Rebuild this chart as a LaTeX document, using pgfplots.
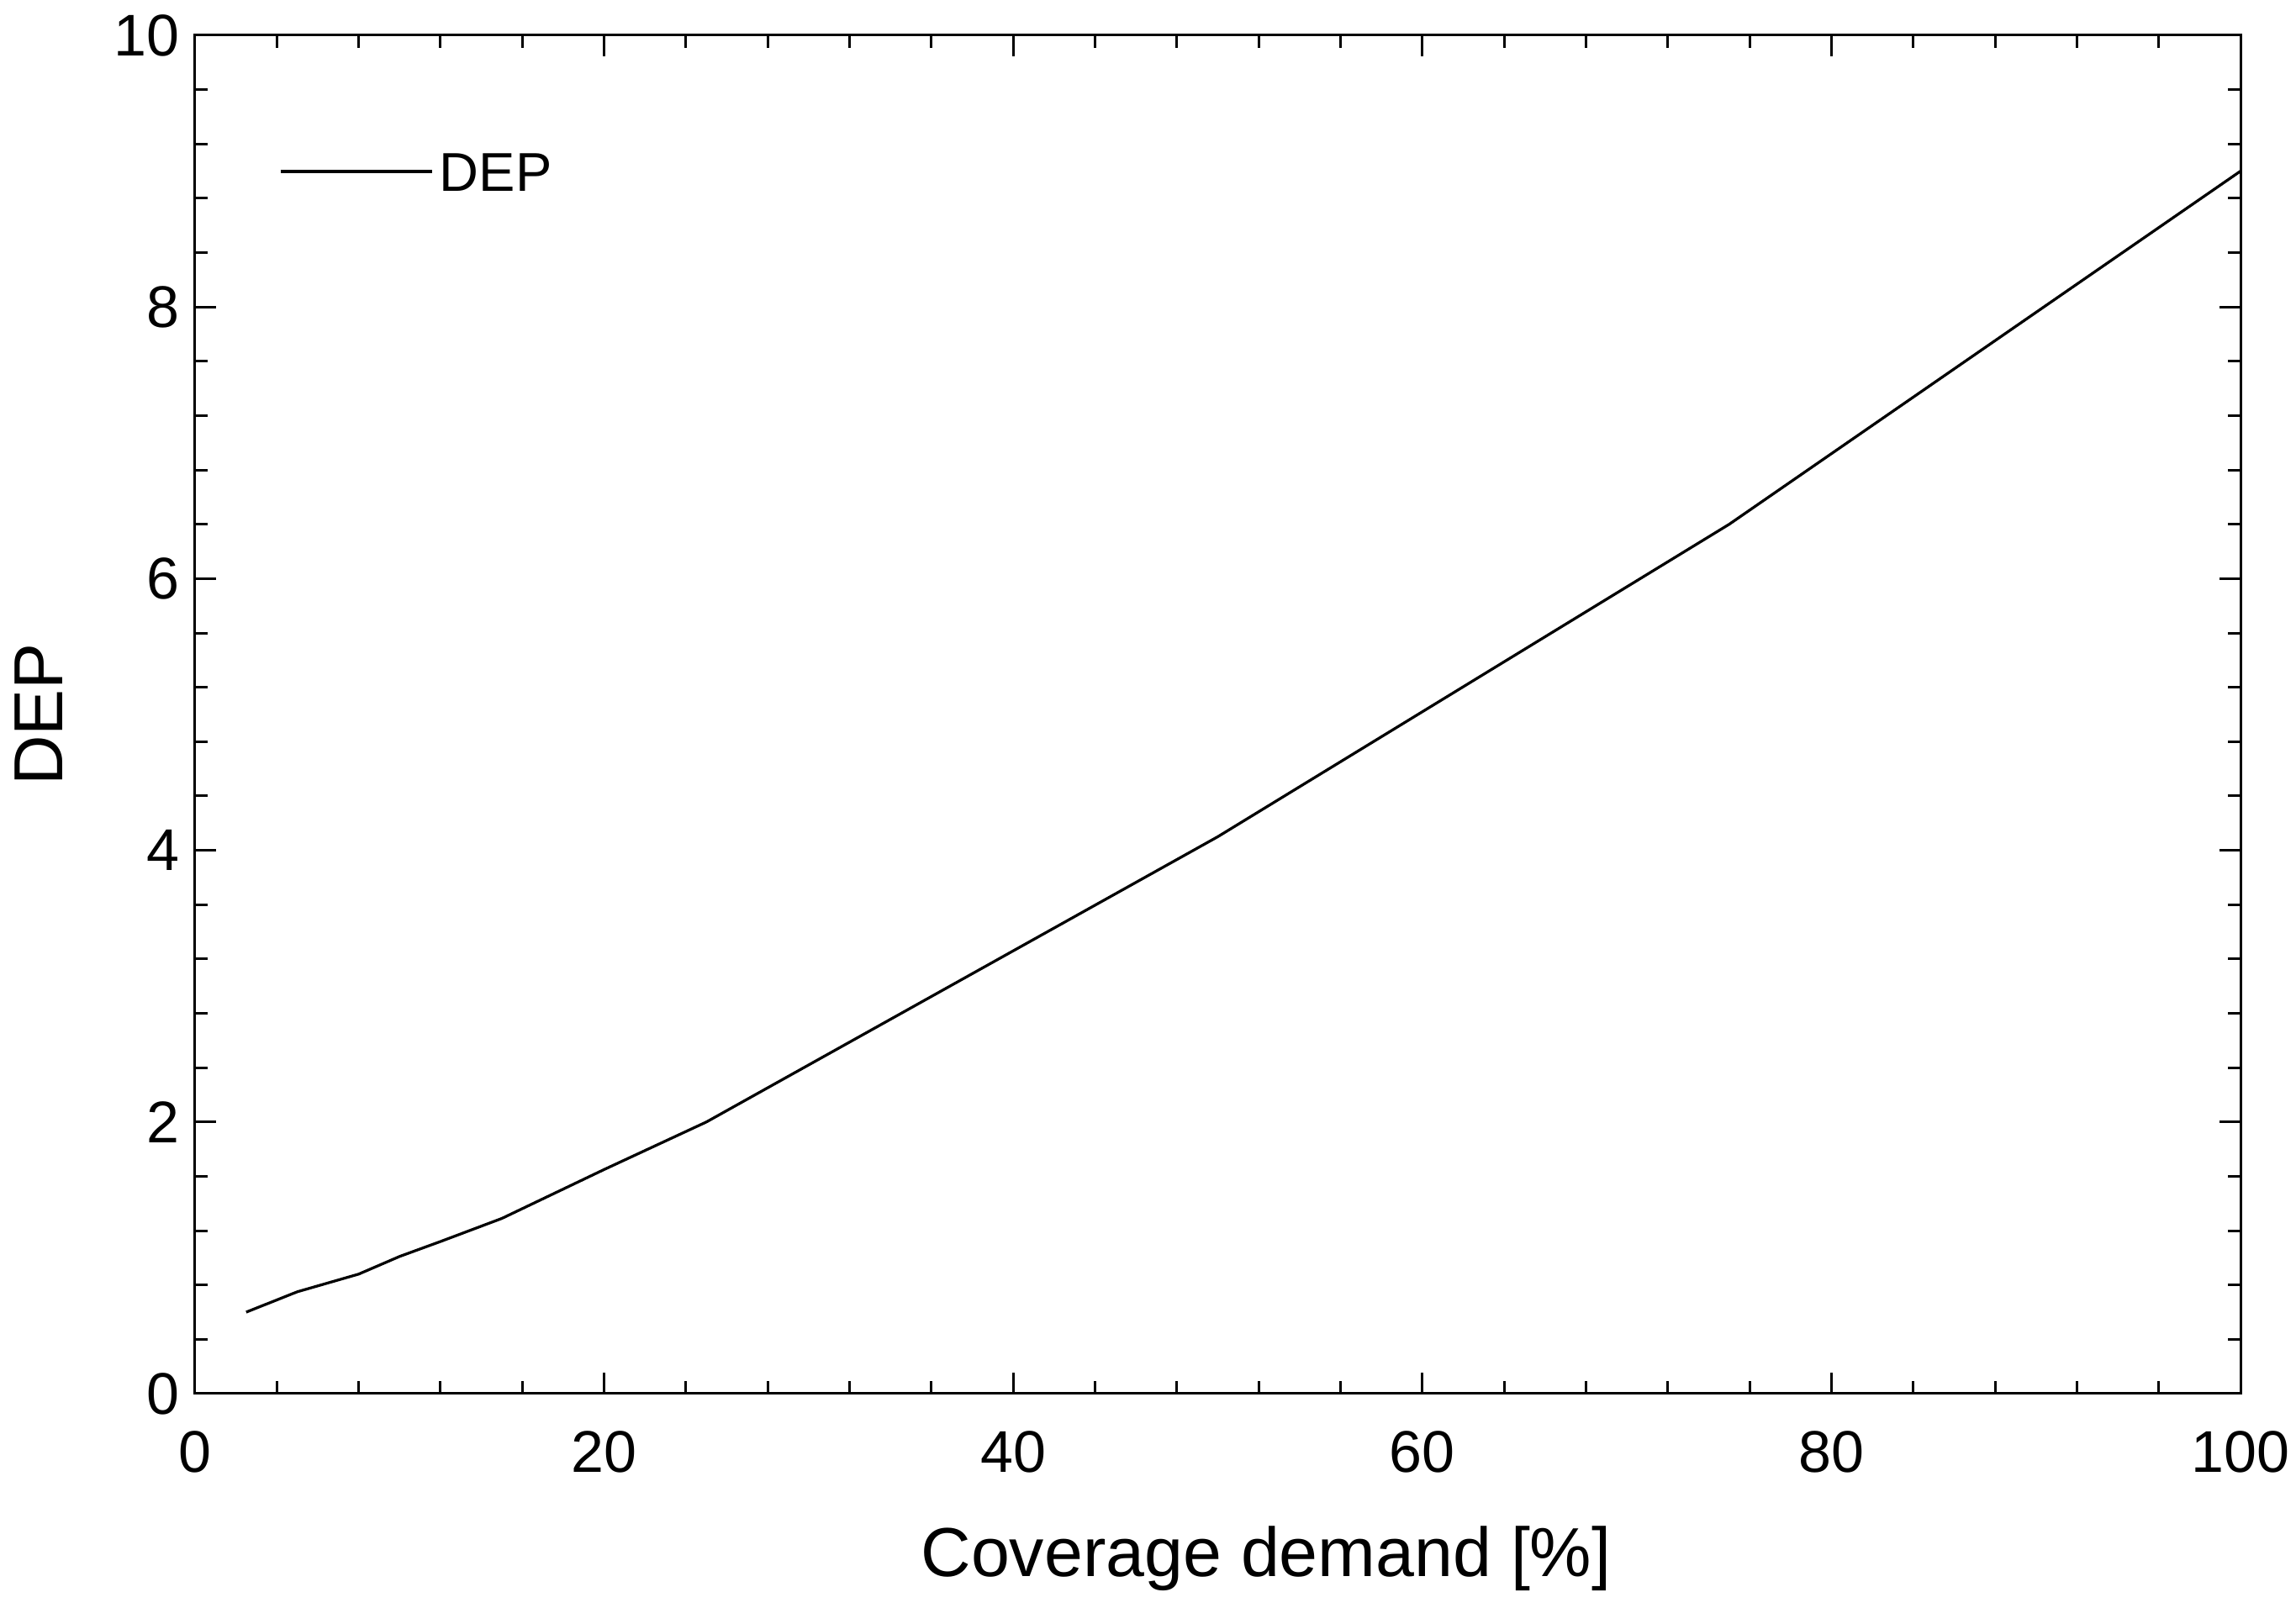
\documentclass[border=0pt]{standalone}
\usepackage{fontspec}
\setmainfont{Liberation Sans}
\usepackage{pgfplots}
\pgfplotsset{compat=1.18}
\begin{document}
\begin{tikzpicture}
\begin{axis}[
  scale only axis,
  width=486.6pt, height=323.2pt,
  xmin=0, xmax=100, ymin=0, ymax=10,
  xtick distance=20, ytick distance=2,
  minor x tick num=4, minor y tick num=4,
  tick pos=both, tick align=inside,
  xticklabel pos=lower, yticklabel pos=left,
  major tick length=5pt, minor tick length=3pt,
  every tick/.style={black, line width=0.6pt},
  axis line style={black, line width=0.6pt},
  /pgf/number format/assume math mode=true,
  ticklabel style={font=\fontsize{14}{16}\selectfont, inner sep=0pt},
  xticklabel style={yshift=-8.8pt},
  yticklabel style={xshift=-3.6pt},
  xlabel={Coverage demand [\%]},
  ylabel={DEP},
  label style={font=\fontsize{16.5}{19}\selectfont, inner sep=0pt},
  xlabel style={at={(axis description cs:0.5,0)}, anchor=north, yshift=-31.4pt, xshift=11.5pt},
  ylabel style={at={(axis description cs:0,0.5)}, anchor=center, yshift=37.2pt},
  legend style={at={(axis description cs:0.0411,0.897)}, anchor=west, draw=none, fill=none,
    inner sep=0pt, outer sep=0pt, font=\fontsize{13}{15}\selectfont,
    nodes={inner sep=0pt},
    /tikz/every odd column/.style={column sep=1.5pt}},
  legend image code/.code={\draw[#1] (0pt,0.09em) -- (36pt,0.09em);},
  legend cell align=left,
]
\addplot[black, line width=0.65pt] coordinates {
  (2.5,0.60) (5,0.75) (8,0.88) (10,1.01) (12,1.12) (15,1.29)
  (20,1.65) (25,2.00) (50,4.10) (75,6.40) (100,9.00)
};
\addlegendentry{DEP}
\coordinate (ll) at (rel axis cs:0,0);
\coordinate (ur) at (rel axis cs:1,1);
\end{axis}
\pgfresetboundingbox
\path[use as bounding box] ([shift={(-46.4pt,-51pt)}]ll) rectangle ([shift={(13.2pt,8.4pt)}]ur);
\end{tikzpicture}
\end{document}
